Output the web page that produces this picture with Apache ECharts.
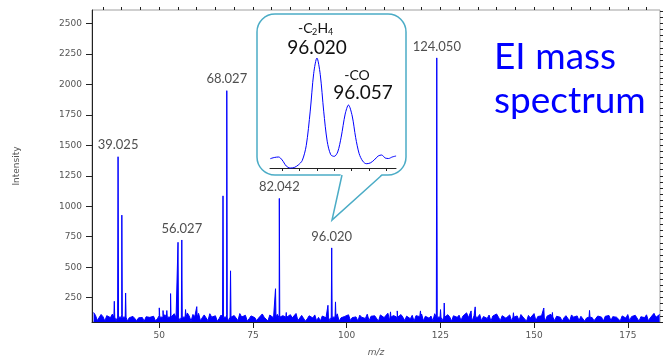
<!DOCTYPE html>
<html><head><meta charset="utf-8">
<script src="https://cdn.jsdelivr.net/npm/echarts@6/dist/echarts.min.js"></script>
<style>html,body{margin:0;padding:0;background:#fff}#c{width:663px;height:362px}</style>
</head><body><div id="c"></div>
<script>
// ---- data ----
const noiseStart = 32.5, noiseStep = 0.5;
const noiseValues = [
128,105,62,88,112,94,58,102,99,86,115,92,60,83,97,110,89,101,57,85,
78,96,108,61,84,99,87,56,93,104,88,81,97,59,76,102,95,63,110,92,
86,58,94,118,88,97,62,105,91,78,124,99,57,112,95,82,121,60,86,108,
97,61,118,90,83,101,56,79,107,88,96,113,59,92,80,103,98,62,119,91,
84,105,57,77,100,109,86,60,82,98,116,89,94,58,107,92,85,99,113,61,
79,102,91,58,97,110,84,93,120,62,82,104,95,57,76,101,94,83,108,60,
88,59,99,112,85,94,61,103,91,87,117,56,84,100,96,80,109,63,86,98,
92,58,106,89,95,79,114,60,97,84,101,92,57,108,94,86,99,122,61,91,
103,87,58,96,111,90,62,98,93,77,105,56,102,86,94,115,60,97,88,81,
99,59,118,85,90,104,61,96,87,110,92,57,101,95,88,106,62,98,91,125,
86,94,58,103,97,89,112,60,95,88,79,107,56,99,85,116,90,61,102,93,
81,97,108,59,94,86,100,62,111,92,87,57,104,83,90,119,60,95,82,101,
94,58,99,84,113,91,61,97,106,89,56,85,102,96,59,108,90,87,100,62,
97,110,57,83,95,104,86,60,81,99,114,90,58,97,88,103,62,94,107,89,
92,59,100,96,82,111,61,94,87,105,98,57,93,101,86,109,60,84,97,121,
88,95,112
];
const peakMz = [38.02, 39.025, 40.03, 41.04, 50.02, 51.02, 52.03, 53.03, 55.02, 56.027, 57.03, 60.02,
  67.02, 68.027, 69.03, 81.03, 82.042, 83.9, 95.02, 96.020, 97.03, 111.7, 113.5, 119.7,
  124.050, 125.05, 126.04, 133.2, 134.3, 144.5, 152.6, 154.9, 164.8];
const peakIntensity = [220, 1406, 927, 288, 166, 144, 144, 283, 704, 723, 152, 176,
  1085, 1948, 470, 323, 1064, 128, 187, 658, 215, 133, 141, 141,
  2217, 152, 206, 141, 174, 126, 165, 128, 145];
const labelMz = [39.025, 56.027, 68.027, 82.042, 96.020, 124.050];
const labelIntensity = [1406, 723, 1948, 1064, 658, 2217];
const labelText = ['39.025', '56.027', '68.027', '82.042', '96.020', '124.050'];
const xMajorTicks = [50, 75, 100, 125, 150, 175];
const xMinorTicks = [35,40,45,50,55,60,65,70,75,80,85,90,95,100,105,110,115,120,125,130,135,140,145,150,155,160,165,170,175,180];
const yMajorTicks = [250, 500, 750, 1000, 1250, 1500, 1750, 2000, 2250, 2500];
const yMinorTicks = [50,100,150,200,250,300,350,400,450,500,550,600,650,700,750,800,850,900,950,1000,1050,1100,1150,1200,1250,1300,1350,1400,1450,1500,1550,1600,1650,1700,1750,1800,1850,1900,1950,2000,2050,2100,2150,2200,2250,2300,2350,2400,2450,2500,2550,2600];
// inset (zoom of m/z 96)
const insetMz = [95.9663,95.9709,95.9759,95.9800,95.9847,95.9893,95.9939,95.9985,96.0031,96.0077,96.0123,96.0163,96.0200,96.0238,96.0278,96.0318,96.0359,96.0399,96.0439,96.0479,96.0525,96.0563,96.0606,96.0646,96.0686,96.0726,96.0767,96.0813,96.0859,96.0905,96.0945,96.0985,96.1025,96.1066,96.1111];
const insetIntensity = [9.3,10.5,11,8,2,0,0.5,3,7.5,22.4,56.9,94.7,110,93.7,56.8,26.8,13.3,11.6,16,30.8,53.9,63,52,30.3,14.3,7,4.3,5,8,12,13,10,9.5,11,12];
const insetTicks = [95.98, 96.00, 96.02, 96.04, 96.06, 96.08, 96.10];

// ---- build ----
const spec = noiseValues.map((v, i) => [noiseStart + i * noiseStep, v]);
peakMz.forEach((m, i) => { spec.push([m - 0.12, 90], [m, peakIntensity[i]], [m + 0.12, 90]); });
spec.sort((a, b) => a[0] - b[0]);
const labelData = labelMz.map((m, i) => [m, labelIntensity[i]]);
const insetData = insetMz.map((m, i) => [m, insetIntensity[i]]);

const tickFont = { fontSize: 9, color: '#555', fontFamily: 'DejaVu Sans', formatter: v => String(v) };
const X0 = 32.07, X1 = 183.6, Y0 = 50, Y1 = 2610;
const teal = '#4bacc6';
const txt = (s, x, y, font, align) => ({ type: 'text', z: 20, x, y, silent: true,
  style: { text: s, align: align || 'left', verticalAlign: 'middle', font, fill: '#111' } });
const chart = echarts.init(document.getElementById('c'), null, { renderer: 'canvas' });
chart.setOption({
  animation: false,
  backgroundColor: '#fff',
  grid: [
    { left: 92, right: 3, top: 10, bottom: 38, show: true, borderColor: '#a0a0a0', borderWidth: 1, backgroundColor: 'transparent' },
    { left: 270, width: 126, top: 48, height: 120 }
  ],
  xAxis: [
    { type: 'value', gridIndex: 0, min: X0, max: X1,
      axisLine: { show: true, onZero: false, lineStyle: { color: '#222', width: 1 } },
      axisTick: { show: true, customValues: xMajorTicks, length: 6, lineStyle: { color: '#222' } },
      axisLabel: Object.assign({ customValues: xMajorTicks, margin: 9 }, tickFont),
      splitLine: { show: false },
      name: 'm/z', nameLocation: 'middle', nameGap: 26,
      nameTextStyle: { fontSize: 9, color: '#555', fontStyle: 'italic', fontFamily: 'DejaVu Sans' } },
    { type: 'value', gridIndex: 0, min: X0, max: X1,
      axisLine: { show: false }, axisLabel: { show: false }, splitLine: { show: false },
      axisTick: { show: true, customValues: xMinorTicks, length: 3, lineStyle: { color: '#222' } } },
    { type: 'value', gridIndex: 1, min: 95.966, max: 96.111,
      axisLine: { show: true, onZero: false, lineStyle: { color: '#222', width: 1 } },
      axisTick: { show: true, customValues: insetTicks, length: 3, lineStyle: { color: '#222' } },
      axisLabel: { show: false }, splitLine: { show: false }, z: 10 }
  ],
  yAxis: [
    { type: 'value', gridIndex: 0, min: Y0, max: Y1,
      axisLine: { show: true, onZero: false, lineStyle: { color: '#222', width: 1 } },
      axisTick: { show: true, customValues: yMajorTicks, length: 6, lineStyle: { color: '#222' } },
      axisLabel: Object.assign({ customValues: yMajorTicks, margin: 10 }, tickFont),
      splitLine: { show: false },
      name: 'Intensity', nameLocation: 'middle', nameGap: 71,
      nameTextStyle: { fontSize: 9, color: '#555', fontFamily: 'DejaVu Sans' } },
    { type: 'value', gridIndex: 0, min: Y0, max: Y1,
      axisLine: { show: false }, axisLabel: { show: false }, splitLine: { show: false },
      axisTick: { show: true, customValues: yMinorTicks, length: 3, lineStyle: { color: '#222' } } },
    { type: 'value', gridIndex: 1, min: 0, max: 120, show: false }
  ],
  series: [
    { type: 'line', xAxisIndex: 0, yAxisIndex: 0, data: spec, showSymbol: false, symbol: 'none',
      sampling: 'none', clip: true, z: 2,
      lineStyle: { color: '#0000ff', width: 1 },
      areaStyle: { color: '#0000ff', opacity: 1, origin: 'start' } },
    { type: 'scatter', xAxisIndex: 0, yAxisIndex: 0, data: labelData, symbolSize: 0, z: 3,
      label: { show: true, position: 'top', distance: 5, formatter: p => labelText[p.dataIndex],
        fontSize: 13, color: '#222', fontFamily: 'Lato' } },
    { type: 'line', xAxisIndex: 2, yAxisIndex: 2, data: insetData, showSymbol: false, symbol: 'none',
      smooth: 0.3, z: 10, clip: false,
      lineStyle: { color: '#0000ff', width: 1 } }
  ],
  graphic: [
    { type: 'rect', z: 5, silent: true,
      shape: { x: 257, y: 14, width: 149, height: 161, r: 18 },
      style: { fill: '#fff', stroke: teal, lineWidth: 1.5 } },
    { type: 'polygon', z: 6, silent: true,
      shape: { points: [[341, 173], [332, 220], [383, 173]] },
      style: { fill: '#fff', stroke: null } },
    { type: 'polyline', z: 7, silent: true,
      shape: { points: [[342, 175], [332, 220], [382, 175]] },
      style: { fill: null, stroke: teal, lineWidth: 1.5 } },
    txt('-C', 298, 28, '14px Lato'),
    txt('2', 312, 32, '9px Lato'),
    txt('H', 317.5, 28, '14px Lato'),
    txt('4', 328, 32, '9px Lato'),
    txt('96.020', 317, 48, '19px Lato', 'center'),
    txt('-CO', 357, 75, '14px Lato', 'center'),
    txt('96.057', 363, 93, '19px Lato', 'center'),
    { type: 'text', z: 20, x: 494, y: 35, silent: true,
      style: { text: 'EI mass\nspectrum', align: 'left', verticalAlign: 'top', font: '37px Lato', lineHeight: 44, fill: '#0000ff' } }
  ]
});
</script></body></html>
